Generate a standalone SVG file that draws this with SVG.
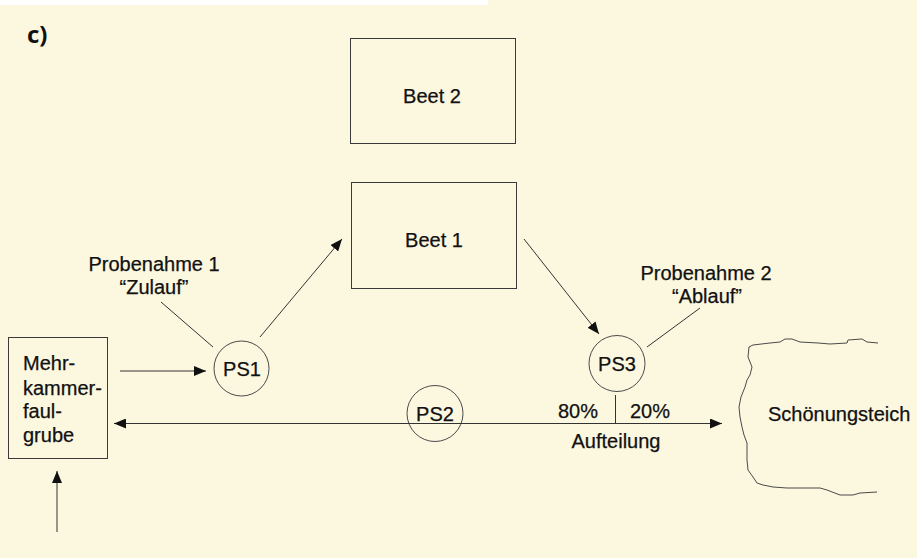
<svg xmlns="http://www.w3.org/2000/svg" width="917" height="558" viewBox="0 0 917 558">
  <style>
    .box { fill: none; stroke: #3a3a3a; stroke-width: 1; }
    .ring { fill: none; stroke: #4a4a4a; stroke-width: 1; }
    .edge { fill: none; stroke: #333; stroke-width: 1; }
    .lbl { font-family: "Liberation Sans", Arial, sans-serif; font-size: 20px; fill: #111; stroke: #111; stroke-width: 0.25; }
    .mid { text-anchor: middle; }
  </style>
  <defs>
    <marker id="arrow" viewBox="0 0 12 10" refX="12" refY="5" markerWidth="12" markerHeight="10" markerUnits="userSpaceOnUse" orient="auto">
      <path d="M0,0 L12,5 L0,10 Z" fill="#111"/>
    </marker>
  </defs>

  <!-- paper -->
  <rect x="0" y="0" width="917" height="558" fill="#fcf7df"/>
  <rect x="0" y="0" width="488" height="5" fill="#ffffff"/>

  <text x="27" y="43" style="font-family: 'Open Sans', 'Liberation Sans', sans-serif; font-size: 24px; font-weight: bold; fill: #111;">c)</text>

  <g id="beet2">
    <rect class="box" x="350.5" y="38.5" width="165" height="105"/>
    <text class="lbl mid" x="432" y="103">Beet 2</text>
  </g>

  <g id="beet1">
    <rect class="box" x="351.5" y="182.5" width="165" height="106"/>
    <text class="lbl mid" x="434" y="247">Beet 1</text>
  </g>

  <g id="grube">
    <rect class="box" x="8.5" y="337.5" width="99" height="121"/>
    <text class="lbl" x="23" y="370">Mehr-</text>
    <text class="lbl" x="23" y="395">kammer-</text>
    <text class="lbl" x="23" y="418">faul-</text>
    <text class="lbl" x="23" y="442">grube</text>
  </g>

  <g id="ps1">
    <circle class="ring" cx="241.5" cy="368.5" r="27.5"/>
    <text class="lbl mid" x="242" y="376">PS1</text>
  </g>

  <g id="ps2">
    <circle class="ring" cx="435" cy="413.5" r="28"/>
    <text class="lbl mid" x="435" y="421">PS2</text>
  </g>

  <g id="ps3">
    <circle class="ring" cx="617" cy="363.5" r="28"/>
    <text class="lbl mid" x="617" y="371">PS3</text>
  </g>

  <g id="teich">
    <path class="ring" d="M878,343 L867,342 L862,339 L848,340 L847,343 L830,344 L818,343 L800,342 L792,339 L785,339 L780,342 L770,343 L753,345 L749,347 L748,357 L752,367 L750,375 L747,380 L745,387 L741,397 L739,407 L740,417 L742,427 L744,435 L747,443 L747,452 L747,460 L748,470 L753,477 L757,483 L763,485 L773,487 L787,488 L803,488 L820,488 L827,490 L840,495 L853,495 L860,493 L877,492"/>
    <text class="lbl" x="768" y="421">Schönungsteich</text>
  </g>

  <g id="probenahme1">
    <text class="lbl mid" x="154" y="271">Probenahme 1</text>
    <text class="lbl mid" x="154" y="294">“Zulauf”</text>
  </g>

  <g id="probenahme2">
    <text class="lbl mid" x="706" y="280">Probenahme 2</text>
    <text class="lbl mid" x="707" y="303">“Ablauf”</text>
  </g>

  <g id="aufteilung">
    <text class="lbl mid" x="578" y="418">80%</text>
    <text class="lbl mid" x="650" y="418">20%</text>
    <text class="lbl mid" x="616" y="448">Aufteilung</text>
  </g>

  <g id="connectors">
    <!-- sampling leader lines -->
    <line class="edge" x1="161" y1="302" x2="213" y2="347"/>
    <line class="edge" x1="700" y1="308" x2="647" y2="347"/>
    <!-- flows -->
    <line class="edge" x1="120" y1="371" x2="206" y2="371" marker-end="url(#arrow)"/>
    <line class="edge" x1="260" y1="337" x2="342" y2="239" marker-end="url(#arrow)"/>
    <line class="edge" x1="524" y1="239" x2="599" y2="334" marker-end="url(#arrow)"/>
    <line class="edge" x1="57" y1="532" x2="57" y2="471" marker-end="url(#arrow)"/>
    <!-- split line: 80% back, 20% to pond -->
    <line class="edge" x1="615" y1="423.5" x2="114" y2="423.5" marker-end="url(#arrow)"/>
    <line class="edge" x1="615" y1="423.5" x2="722" y2="423.5" marker-end="url(#arrow)"/>
    <line class="edge" x1="615.5" y1="395" x2="615.5" y2="423"/>
  </g>
</svg>
